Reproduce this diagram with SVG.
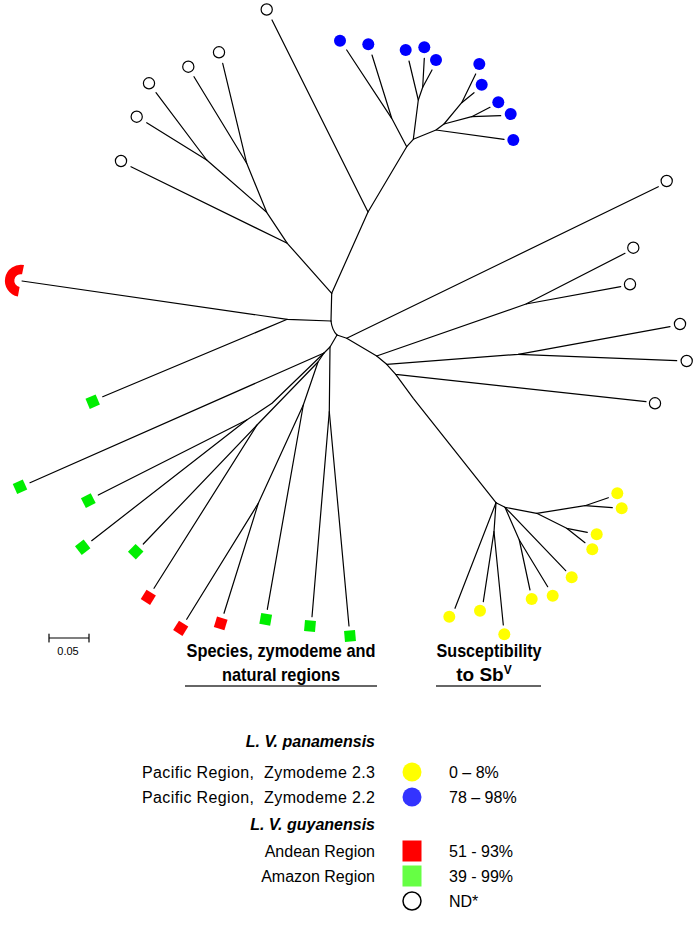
<svg xmlns="http://www.w3.org/2000/svg" xmlns:xlink="http://www.w3.org/1999/xlink" width="697" height="941" viewBox="0 0 697 941">
<style>
.br{stroke:#000;stroke-width:1.2;fill:none;stroke-linejoin:round;stroke-linecap:round}
.nd{fill:#fff;stroke:#000;stroke-width:1.2}
.pb{fill:#0000ff}
.py{fill:#ffff00}
.sg{fill:#00ee00}
.sr{fill:#ff0000}
.t{font-family:"Liberation Sans",Arial,sans-serif;font-size:16px;fill:#000}
.h{font-family:"Liberation Sans",Arial,sans-serif;font-size:19px;font-weight:bold;fill:#000}
.sp{font-family:"Liberation Sans",Arial,sans-serif;font-size:16px;font-weight:bold;font-style:italic;fill:#000}
.rule{stroke:#666;stroke-width:2}
</style>
<defs>
<rect id="sq" x="-5.5" y="-5.5" width="11" height="11"/>
</defs>
<rect width="697" height="941" fill="#fff"/>
<g id="edges" class="br">
<path d="M331.7,293.3 L331,321"/>
<path d="M331.7,293.3 L368,212 L272,20"/>
<path d="M368,212 L406.7,146.7"/>
<path d="M331.7,293.3 L287.3,243.3 L131,166.7"/>
<path d="M287.3,243.3 L266.7,212.3 L206.7,160 L156,92.7"/>
<path d="M206.7,160 L146.7,122.7"/>
<path d="M266.7,212.3 L246.7,163.3 L194,76.7"/>
<path d="M246.7,163.3 L222.7,63.3"/>
<path d="M406.7,146.7 L391.7,118.3 L372,55"/>
<path d="M391.7,118.3 L346.7,50"/>
<path d="M406.7,146.7 L413.3,139.3 L418.3,100 L409,61"/>
<path d="M418.3,100 L422.7,87.3 L424.3,58.3"/>
<path d="M422.7,87.3 L432,70"/>
<path d="M413.3,139.3 L436,130 L444,124 L461.7,102.7 L475.7,74"/>
<path d="M461.7,102.7 L474,92.7"/>
<path d="M444,124 L471.7,116.7 L490,107.3"/>
<path d="M471.7,116.7 L500.7,115.7"/>
<path d="M436,130 L504,139.3"/>
<path d="M331,321 L287.3,319.3 L22,281"/>
<path d="M287.3,319.3 L102.7,396.7"/>
<path d="M331,321 Q332,330 337,335"/>
<path d="M337,335 L330,347 L329.3,411.7 L312,616.7"/>
<path d="M329.3,411.7 L349,626"/>
<path d="M330,347 L324,353 L30,482.7"/>
<path d="M324,353 L272,403.3 L246.7,420 L98.3,495"/>
<path d="M246.7,420 L91.7,540.7"/>
<path d="M324,353 L318,362 L257,425 L143.3,544"/>
<path d="M257,425 L154,588.3"/>
<path d="M318,362 L303.3,405 L267.3,609.3"/>
<path d="M303.3,405 L258.3,503.3 L186.7,619.3"/>
<path d="M258.3,503.3 L224,613.3"/>
<path d="M337,335 L346.7,338.3 L658.3,186.7"/>
<path d="M346.7,338.3 L376.7,356 L526,304 L625,253.3"/>
<path d="M526,304 L620.7,286.7"/>
<path d="M376.7,356 L386.7,364.3 L518.3,354.3 L670,326.7"/>
<path d="M518.3,354.3 L676.7,360.7"/>
<path d="M386.7,364.3 L395.7,374.3 L646,401.7"/>
<path d="M395.7,374.3 L413.3,398.3 L496,502.7"/>
<path d="M496,502.7 L505,507.3 L536.7,513.3 L585,505.7 L608.3,497.7"/>
<path d="M585,505.7 L612.3,507.7"/>
<path d="M536.7,513.3 L566.7,528.3 L587.3,532.3"/>
<path d="M566.7,528.3 L585,542.7"/>
<path d="M505,507.3 L519.3,540 L530,590"/>
<path d="M519.3,540 L547.7,586.7"/>
<path d="M505,507.3 L565.7,570.7"/>
<path d="M496,502.7 L455,608.3"/>
<path d="M496,502.7 L494,531.7 L483.3,601.7"/>
<path d="M494,531.7 L503.3,625"/>
</g>
<g id="nd-leaves">
<g id="nd1"><circle class="nd" cx="266.7" cy="9.5" r="5.6"/></g>
<g id="nd2"><circle class="nd" cx="121" cy="161" r="5.6"/></g>
<g id="nd3"><circle class="nd" cx="136.7" cy="116.7" r="5.6"/></g>
<g id="nd4"><circle class="nd" cx="149" cy="83.3" r="5.6"/></g>
<g id="nd5"><circle class="nd" cx="188.3" cy="66.7" r="5.6"/></g>
<g id="nd6"><circle class="nd" cx="219" cy="52.3" r="5.6"/></g>
<g id="nd7"><circle class="nd" cx="666.7" cy="181" r="5.6"/></g>
<g id="nd8"><circle class="nd" cx="633.3" cy="247.7" r="5.6"/></g>
<g id="nd9"><circle class="nd" cx="630" cy="284.3" r="5.6"/></g>
<g id="nd10"><circle class="nd" cx="680" cy="324" r="5.6"/></g>
<g id="nd11"><circle class="nd" cx="686.7" cy="361" r="5.6"/></g>
<g id="nd12"><circle class="nd" cx="655" cy="403.3" r="5.6"/></g>
</g>
<g id="blue-leaves" class="pb">
<g id="b1"><circle cx="340" cy="40.7" r="6"/></g>
<g id="b2"><circle cx="368.3" cy="44.3" r="6"/></g>
<g id="b3"><circle cx="405.7" cy="50" r="6"/></g>
<g id="b4"><circle cx="424.3" cy="47.3" r="6"/></g>
<g id="b5"><circle cx="436" cy="60" r="6"/></g>
<g id="b6"><circle cx="479.3" cy="64" r="6"/></g>
<g id="b7"><circle cx="481.7" cy="84.7" r="6"/></g>
<g id="b8"><circle cx="498.3" cy="102.3" r="6"/></g>
<g id="b9"><circle cx="510.7" cy="114" r="6"/></g>
<g id="b10"><circle cx="513.3" cy="140" r="6"/></g>
</g>
<g id="yellow-leaves" class="py">
<g id="y1"><circle cx="617.3" cy="493.3" r="6"/></g>
<g id="y2"><circle cx="621.7" cy="508.3" r="6"/></g>
<g id="y3"><circle cx="596.7" cy="534.3" r="6"/></g>
<g id="y4"><circle cx="592.3" cy="549.3" r="6"/></g>
<g id="y5"><circle cx="571.7" cy="577.3" r="6"/></g>
<g id="y6"><circle cx="552.7" cy="595.7" r="6"/></g>
<g id="y7"><circle cx="531.7" cy="599" r="6"/></g>
<g id="y8"><circle cx="504.3" cy="634.3" r="6"/></g>
<g id="y9"><circle cx="480" cy="610.7" r="6"/></g>
<g id="y10"><circle cx="449.3" cy="616.7" r="6"/></g>
</g>
<g id="green-leaves" class="sg">
<g id="g1"><use xlink:href="#sq" href="#sq" transform="translate(92.7,401.7) rotate(-23)"/></g>
<g id="g2"><use xlink:href="#sq" href="#sq" transform="translate(20,486.7) rotate(-24)"/></g>
<g id="g3"><use xlink:href="#sq" href="#sq" transform="translate(88.3,500.7) rotate(-27)"/></g>
<g id="g4"><use xlink:href="#sq" href="#sq" transform="translate(82.7,547.3) rotate(-38)"/></g>
<g id="g5"><use xlink:href="#sq" href="#sq" transform="translate(135.7,551.7) rotate(-46)"/></g>
<g id="g6"><use xlink:href="#sq" href="#sq" transform="translate(265.7,619.3) rotate(10)"/></g>
<g id="g7"><use xlink:href="#sq" href="#sq" transform="translate(310,626) rotate(5)"/></g>
<g id="g8"><use xlink:href="#sq" href="#sq" transform="translate(350,636) rotate(-5)"/></g>
</g>
<g id="red-leaves" class="sr">
<g id="r1"><use xlink:href="#sq" href="#sq" transform="translate(148.3,597.3) rotate(32)"/></g>
<g id="r2"><use xlink:href="#sq" href="#sq" transform="translate(180.7,628.3) rotate(32)"/></g>
<g id="r3"><use xlink:href="#sq" href="#sq" transform="translate(220.7,623.3) rotate(17)"/></g>
<g id="r-fan"><path d="M24,265 A16,16 0 1 0 17.9,296.5 L19.6,287.1 A6.5,6.5 0 1 1 22.05,274.3 Z"/></g>
</g>
<g id="scale-bar">
<path class="br" d="M49,638 H89 M49,634 V642 M89,634 V642"/>
<text x="68" y="655" text-anchor="middle" style="font-family:'Liberation Sans',Arial,sans-serif;font-size:11px">0.05</text>
</g>
<g id="legend">
<text class="h" x="281" y="657" text-anchor="middle" textLength="189" lengthAdjust="spacingAndGlyphs">Species, zymodeme and</text>
<text class="h" x="281" y="681" text-anchor="middle" textLength="118" lengthAdjust="spacingAndGlyphs">natural regions</text>
<line class="rule" x1="185" y1="686" x2="377" y2="686"/>
<text class="h" x="489" y="657" text-anchor="middle" textLength="105" lengthAdjust="spacingAndGlyphs">Susceptibility</text>
<text class="h" x="484" y="681" text-anchor="middle">to Sb<tspan dy="-7" font-size="12">V</tspan></text>
<line class="rule" x1="436" y1="686" x2="541" y2="686"/>
<text class="sp" x="375" y="747" text-anchor="end">L. V. panamensis</text>
<text class="t" x="142" y="778" textLength="233" lengthAdjust="spacing" xml:space="preserve">Pacific Region,  Zymodeme 2.3</text>
<circle cx="412" cy="772" r="9.5" fill="#ffff00"/>
<text class="t" x="449" y="778">0 – 8%</text>
<text class="t" x="142" y="803" textLength="233" lengthAdjust="spacing" xml:space="preserve">Pacific Region,  Zymodeme 2.2</text>
<circle cx="412" cy="797" r="9.5" fill="#3333ff"/>
<text class="t" x="449" y="803">78 – 98%</text>
<text class="sp" x="375" y="830" text-anchor="end">L. V. guyanensis</text>
<text class="t" x="375" y="857" text-anchor="end">Andean Region</text>
<rect x="402.5" y="840.5" width="19" height="21" fill="#ff0000"/>
<text class="t" x="449" y="857">51 - 93%</text>
<text class="t" x="375" y="882" text-anchor="end">Amazon Region</text>
<rect x="402.5" y="865.5" width="19" height="21" fill="#66ff44"/>
<text class="t" x="449" y="882">39 - 99%</text>
<circle cx="412" cy="901" r="9" fill="#fff" stroke="#000" stroke-width="1.5"/>
<text class="t" x="449" y="907">ND*</text>
</g>
</svg>
